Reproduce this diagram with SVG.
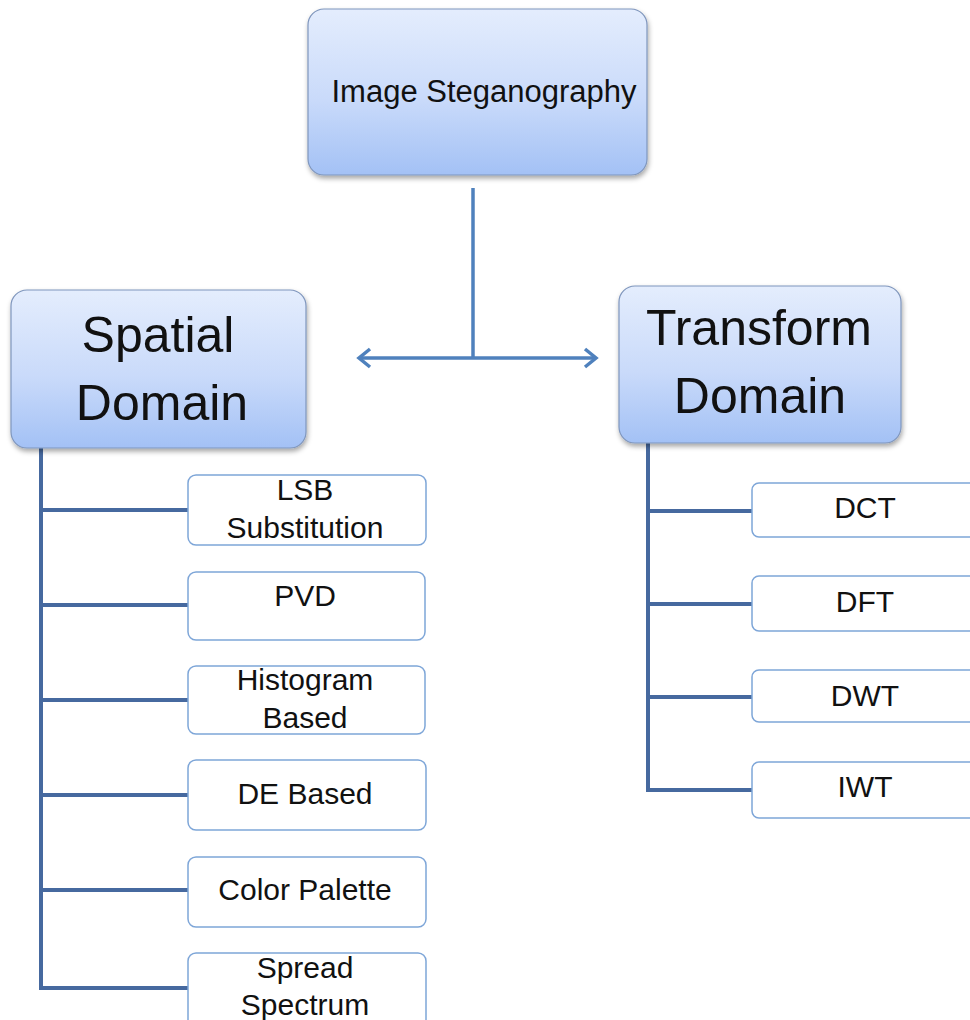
<svg xmlns="http://www.w3.org/2000/svg" width="970" height="1020" viewBox="0 0 970 1020">
<style>
.main{stroke:#7f96bd;stroke-width:1.2;fill:url(#g)}
.child{fill:#fff;stroke:#7ea6d8;stroke-width:1.5}
.t{font-family:"Liberation Sans",Arial,sans-serif;fill:#111;text-anchor:middle}
.big{font-size:50px}
.mid{font-size:30px}
.conn{stroke:#46699f;stroke-width:4;fill:none}
.arr{stroke:#4f81bd;stroke-width:3.5;fill:none}
</style>
<defs>
<linearGradient id="g" x1="0" y1="0" x2="0" y2="1">
<stop offset="0" stop-color="#e4edfd"/>
<stop offset="0.55" stop-color="#c9dafa"/>
<stop offset="1" stop-color="#a3c1f5"/>
</linearGradient>
<filter id="sh" x="-10%" y="-10%" width="125%" height="130%">
<feDropShadow dx="1" dy="3" stdDeviation="2.5" flood-color="#000" flood-opacity="0.35"/>
</filter>
</defs>
<rect width="970" height="1020" fill="#fff"/>
<g id="connectors">
<line class="arr" x1="473" y1="188" x2="473" y2="358"/>
<line class="arr" x1="359" y1="358" x2="596" y2="358"/>
<polyline class="arr" points="370,349 359,358 370,367"/>
<polyline class="arr" points="585,349 596,358 585,367"/>
<polyline class="conn" points="41,448 41,988 188,988"/>
<line class="conn" x1="41" y1="510" x2="188" y2="510"/>
<line class="conn" x1="41" y1="605" x2="188" y2="605"/>
<line class="conn" x1="41" y1="700" x2="188" y2="700"/>
<line class="conn" x1="41" y1="795" x2="188" y2="795"/>
<line class="conn" x1="41" y1="890" x2="188" y2="890"/>
<polyline class="conn" points="648,443 648,790 752,790"/>
<line class="conn" x1="648" y1="511" x2="752" y2="511"/>
<line class="conn" x1="648" y1="604" x2="752" y2="604"/>
<line class="conn" x1="648" y1="697" x2="752" y2="697"/>
</g>
<g id="image-steganography">
<rect class="main" filter="url(#sh)" x="308" y="9" width="339" height="166" rx="16"/>
<text class="t" x="484" y="102" style="font-size:31px">Image Steganography</text>
</g>
<g id="spatial-domain">
<rect class="main" filter="url(#sh)" x="11" y="290" width="295" height="158" rx="16"/>
<text class="t big" x="158" y="352">Spatial</text>
<text class="t big" x="162" y="420">Domain</text>
</g>
<g id="transform-domain">
<rect class="main" filter="url(#sh)" x="619" y="286" width="282" height="157" rx="16"/>
<text class="t big" x="759" y="345">Transform</text>
<text class="t big" x="760" y="413">Domain</text>
</g>
<g id="lsb">
<rect class="child" x="188" y="475" width="238" height="70" rx="8"/>
<text class="t mid" x="305" y="500">LSB</text>
<text class="t mid" x="305" y="538">Substitution</text>
</g>
<g id="pvd">
<rect class="child" x="188" y="572" width="237" height="68" rx="8"/>
<text class="t mid" x="305" y="606">PVD</text>
</g>
<g id="histogram">
<rect class="child" x="188" y="666" width="237" height="68" rx="8"/>
<text class="t mid" x="305" y="690">Histogram</text>
<text class="t mid" x="305" y="728">Based</text>
</g>
<g id="de-based">
<rect class="child" x="188" y="760" width="238" height="70" rx="8"/>
<text class="t mid" x="305" y="804">DE Based</text>
</g>
<g id="color-palette">
<rect class="child" x="188" y="857" width="238" height="70" rx="8"/>
<text class="t mid" x="305" y="900">Color Palette</text>
</g>
<g id="spread-spectrum">
<rect class="child" x="188" y="953" width="238" height="80" rx="8"/>
<text class="t mid" x="305" y="978">Spread</text>
<text class="t mid" x="305" y="1015">Spectrum</text>
</g>
<g id="dct">
<rect class="child" x="752" y="483" width="230" height="54" rx="7"/>
<text class="t mid" x="865" y="518">DCT</text>
</g>
<g id="dft">
<rect class="child" x="752" y="576" width="230" height="55" rx="7"/>
<text class="t mid" x="865" y="612">DFT</text>
</g>
<g id="dwt">
<rect class="child" x="752" y="670" width="230" height="52" rx="7"/>
<text class="t mid" x="865" y="706">DWT</text>
</g>
<g id="iwt">
<rect class="child" x="752" y="762" width="230" height="56" rx="7"/>
<text class="t mid" x="865" y="797">IWT</text>
</g>
</svg>
